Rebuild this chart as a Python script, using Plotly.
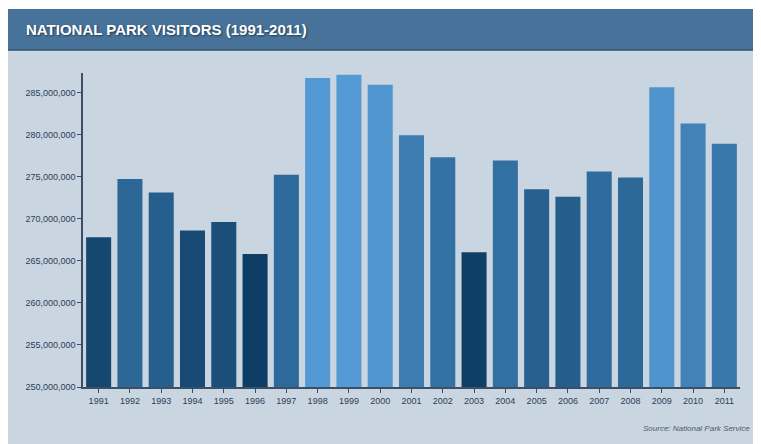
import plotly.graph_objects as go

years = [str(y) for y in range(1991, 2012)]
visitors = [267.8, 274.7, 273.1, 268.6, 269.6, 265.8, 275.2, 286.7, 287.1, 285.9,
            279.9, 277.3, 266.0, 276.9, 273.5, 272.6, 275.6, 274.9, 285.6, 281.3, 278.9]
visitors = [v * 1e6 for v in visitors]
tick_vals = [250e6 + 5e6 * i for i in range(8)]
tick_text = ['{:,}'.format(int(v)) for v in tick_vals]

# page body has an 8px margin, so the figure is 8px smaller than the window
W, H = 753, 436
L, R, T, B = 75, 21, 65, 57
pw, ph = W - L - R, H - T - B
panel = '#c9d5e0'
ink = '#2b3e58'
sans = 'Liberation Sans, Arial, sans-serif'

# paper coords helpers (pixel -> paper)
def px(x):
    return (x - L) / pw

def py(y):
    return (H - B - y) / ph

fig = go.Figure()
fig.add_trace(go.Bar(
    x=years, y=visitors,
    marker=dict(color=visitors, cmin=265.5e6, cmax=287.5e6,
                colorscale=[[0, '#0d3c63'], [0.45, '#2e6a9b'], [1, '#569cd7']],
                line=dict(width=0)),
    showlegend=False,
))

fig.update_layout(
    width=W, height=H,
    margin=dict(l=L, r=R, t=T, b=B),
    paper_bgcolor='white',
    plot_bgcolor=panel,
    bargap=0.2,
    font=dict(family=sans, color=ink, size=9),
    shapes=[
        dict(type='rect', xref='paper', yref='paper', layer='below',
             x0=px(0), x1=px(W), y0=py(H), y1=py(42),
             fillcolor=panel, line=dict(width=0)),
        dict(type='rect', xref='paper', yref='paper', layer='above',
             x0=px(0), x1=px(W), y0=py(42), y1=py(1),
             fillcolor='#47739a', line=dict(width=0)),
        dict(type='line', xref='paper', yref='paper', layer='above',
             x0=px(0), x1=px(W), y0=py(42), y1=py(42),
             line=dict(color='#33536f', width=1.5)),
    ],
    annotations=[
        dict(text='<b>NATIONAL PARK VISITORS (1991-2011)</b>', xref='paper', yref='paper',
             x=px(16), y=py(22), xanchor='left', yanchor='middle',
             showarrow=False,
             font=dict(family=sans, size=15, color='white', shadow='1px 1px 2px #1f3a55')),
        dict(text='<i>Source: National Park Service</i>', xref='paper', yref='paper',
             x=px(744), y=py(420), xanchor='right', yanchor='middle',
             showarrow=False, font=dict(family=sans, size=8, color='#4a5a70')),
    ],
)

fig.update_xaxes(showline=True, linecolor='#3d4f66', linewidth=1.5,
                 ticks='outside', ticklen=4, tickcolor='#3d4f66',
                 tickfont=dict(size=9, color=ink), showgrid=False, automargin=False)
fig.update_yaxes(range=[250e6, 287.3e6], tickvals=tick_vals, ticktext=tick_text,
                 showline=True, linecolor='#3d4f66', linewidth=1.5,
                 ticks='outside', ticklen=4, tickcolor='#3d4f66',
                 tickfont=dict(size=9, color=ink), showgrid=False, zeroline=False,
                 automargin=False)

fig.write_html('out.html')
